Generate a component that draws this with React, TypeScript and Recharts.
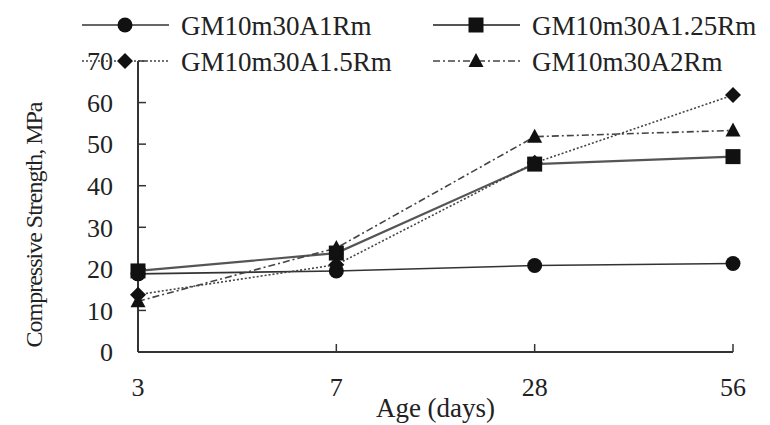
import React from 'react';
import { LineChart, Line, XAxis, YAxis, Legend } from 'recharts';

const ages = ['3', '7', '28', '56'];
const a1Rm = [18.8, 19.5, 20.8, 21.3];
const a125Rm = [19.5, 23.8, 45.2, 47.0];
const a15Rm = [13.8, 21.0, 45.5, 61.8];
const a2Rm = [12.2, 25.0, 51.8, 53.3];
const seriesNames = ['GM10m30A1Rm', 'GM10m30A1.25Rm', 'GM10m30A1.5Rm', 'GM10m30A2Rm'];
const seriesKeys = ['a1', 'a125', 'a15', 'a2'];
const yTicks = [0, 10, 20, 30, 40, 50, 60, 70];

const data = ages.map((age, i) => ({
  age,
  a1: a1Rm[i],
  a125: a125Rm[i],
  a15: a15Rm[i],
  a2: a2Rm[i],
}));

const FONT = '"Liberation Serif", "Times New Roman", serif';
const INK = '#222';

type Shape = 'circle' | 'square' | 'diamond' | 'triangle';
const shapes: Shape[] = ['circle', 'square', 'diamond', 'triangle'];
const strokes = ['#333', '#555', '#444', '#444'];
const dashes = [undefined, undefined, '2 2', '7 3 2 3'];
const widths = [1.6, 2.2, 1.6, 1.6];

function Marker({ shape, cx, cy }: { shape: Shape; cx: number; cy: number }) {
  if (cx == null || cy == null) return null;
  switch (shape) {
    case 'circle':
      return <circle cx={cx} cy={cy} r={7.5} fill="#111" />;
    case 'square':
      return <rect x={cx - 7.5} y={cy - 7.5} width={15} height={15} fill="#111" />;
    case 'diamond':
      return (
        <polygon
          points={`${cx},${cy - 8} ${cx + 8},${cy} ${cx},${cy + 8} ${cx - 8},${cy}`}
          fill="#111"
        />
      );
    case 'triangle':
      return (
        <polygon
          points={`${cx},${cy - 8} ${cx + 7.5},${cy + 6} ${cx - 7.5},${cy + 6}`}
          fill="#111"
        />
      );
  }
  return null;
}

const legendPos = [
  { x: 82, y: 25 },
  { x: 433, y: 25 },
  { x: 82, y: 61 },
  { x: 433, y: 61 },
];

function LegendContent() {
  return (
    <svg width={770} height={80} style={{ overflow: 'visible', display: 'block' }}>
      {seriesNames.map((name, i) => {
        const p = legendPos[i];
        return (
          <g key={name}>
            <line
              x1={p.x}
              x2={p.x + 87}
              y1={p.y}
              y2={p.y}
              stroke={strokes[i]}
              strokeWidth={widths[i]}
              strokeDasharray={dashes[i]}
            />
            <Marker shape={shapes[i]} cx={p.x + 43} cy={p.y} />
            <text
              x={p.x + 99}
              y={p.y + 10}
              style={{ fontFamily: FONT, fontSize: 27, fill: INK }}
            >
              {name}
            </text>
          </g>
        );
      })}
    </svg>
  );
}

const tickStyle = { fontFamily: FONT, fontSize: 26, fill: INK, style: { fontFamily: FONT } };

export default function App() {
  return (
    <div
      style={{
        position: 'absolute',
        left: 0,
        top: 0,
        width: 770,
        height: 425,
        background: '#fff',
        fontFamily: FONT,
      }}
    >
      <LineChart
        width={770}
        height={425}
        data={data}
        style={{ fontFamily: FONT }}
        margin={{ top: 61, right: 37, bottom: 0, left: 0 }}
      >
        <XAxis
          dataKey="age"
          height={73}
          axisLine={{ stroke: '#333', strokeWidth: 2 }}
          tickLine={{ stroke: '#333', strokeWidth: 1.5 }}
          tickSize={-8}
          tickMargin={34}
          tick={tickStyle}
          interval={0}
          label={{
            value: 'Age (days)',
            position: 'insideBottom',
            offset: 8,
            style: { fontFamily: FONT, fontSize: 27, fill: INK },
          }}
        />
        <YAxis
          width={138}
          domain={[0, 70]}
          ticks={yTicks}
          interval={0}
          axisLine={{ stroke: '#333', strokeWidth: 2 }}
          tickLine={{ stroke: '#333', strokeWidth: 1.5 }}
          tickSize={-8}
          tickMargin={33}
          tick={tickStyle}
          label={{
            content: () => (
              <text
                x={42}
                y={225}
                transform="rotate(-90 42 225)"
                textAnchor="middle"
                style={{ fontFamily: FONT, fontSize: 24, fill: INK, letterSpacing: -1 }}
              >
                Compressive Strength, MPa
              </text>
            ),
          }}
        />
        <Legend
          layout="horizontal"
          align="center"
          verticalAlign="middle"
          content={() => <LegendContent />}
          wrapperStyle={{ top: 0, left: 0, width: 770, height: 80 }}
        />
        {seriesKeys.map((k, i) => (
          <Line
            key={k}
            type="linear"
            dataKey={k}
            name={seriesNames[i]}
            stroke={strokes[i]}
            strokeWidth={widths[i]}
            strokeDasharray={dashes[i]}
            isAnimationActive={false}
            dot={(props: any) => (
              <Marker key={`${k}-${props.index}`} shape={shapes[i]} cx={props.cx} cy={props.cy} />
            )}
            activeDot={false}
          />
        ))}
      </LineChart>
    </div>
  );
}
